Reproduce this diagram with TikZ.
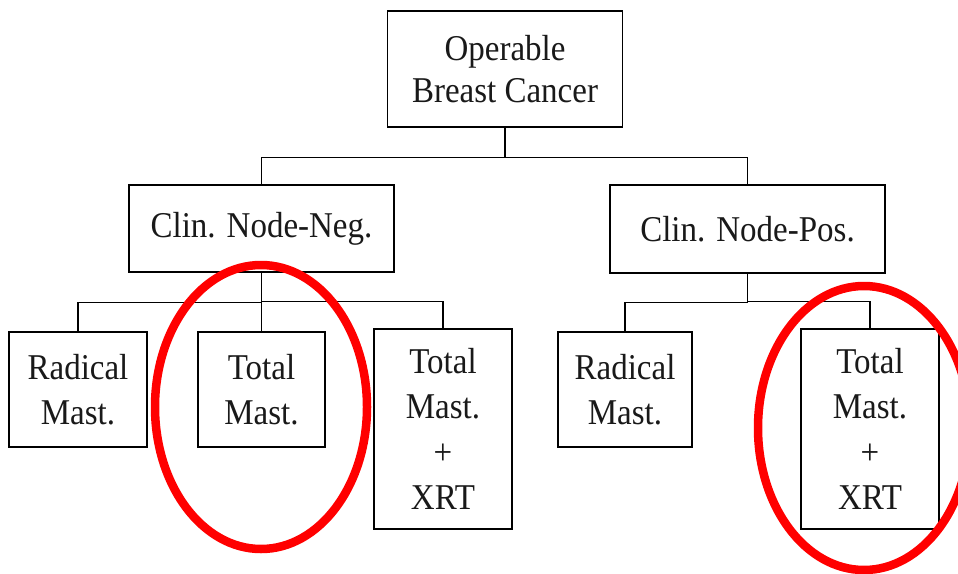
\documentclass[tikz,border=0pt]{standalone}
\usepackage{graphicx}
\usepackage{fontspec}
\setmainfont{Liberation Serif}
\newcommand\sv[1]{\scalebox{1}[1.1]{#1}}
\begin{document}
\begin{tikzpicture}[x=1pt,y=-1pt,
  box/.style={draw=black, line width=1.3pt, rectangle, inner sep=0pt, align=center,
    text=black!90, font=\fontsize{33}{45.5}\selectfont},
  conn/.style={draw=black, line width=1.3pt},
  redring/.style={draw=red, line width=8.5pt}]
\path[use as bounding box] (0,0) rectangle (958,573);
\node[box, minimum width=235, minimum height=116, font=\fontsize{33}{42}\selectfont] (top) at (505,69) {\sv{Operable}\\\sv{Breast Cancer}};
\node[box, minimum width=265, minimum height=87] (neg) at (261.5,228.5) {\sv{Clin. Node-Neg.}};
\node[box, minimum width=275, minimum height=88] (pos) at (747.5,229) {\sv{Clin. Node-Pos.}};
\node[box, minimum width=138, minimum height=115] (radL) at (78,389.5) {\sv{Radical}\\\sv{Mast.}};
\node[box, minimum width=127, minimum height=115] (totL) at (261.5,389.5) {\sv{Total}\\\sv{Mast.}};
\node[box, minimum width=138, minimum height=200] (xrtL) at (443,429) {\sv{Total}\\\sv{Mast.}\\\sv{+}\\\sv{XRT}};
\node[box, minimum width=134, minimum height=115] (radR) at (625,389.5) {\sv{Radical}\\\sv{Mast.}};
\node[box, minimum width=138, minimum height=200] (xrtR) at (870,429) {\sv{Total}\\\sv{Mast.}\\\sv{+}\\\sv{XRT}};
\draw[conn] (top.south) -- ++(0,30) -| (neg.north);
\draw[conn] (top.south) -- ++(0,30) -| (pos.north);
\draw[conn] (neg.south) -- ++(0,30) -| (radL.north);
\draw[conn] (neg.south) -- (totL.north);
\draw[conn] (neg.south) -- ++(0,29) -| (xrtL.north);
\draw[conn] (pos.south) -- ++(0,29) -| (radR.north);
\draw[conn] (pos.south) -- ++(0,28) -| (xrtR.north);
\draw[redring] (261,407) ellipse [x radius=106, y radius=142];
\draw[redring] (864,428) ellipse [x radius=106, y radius=142];
\end{tikzpicture}
\end{document}
